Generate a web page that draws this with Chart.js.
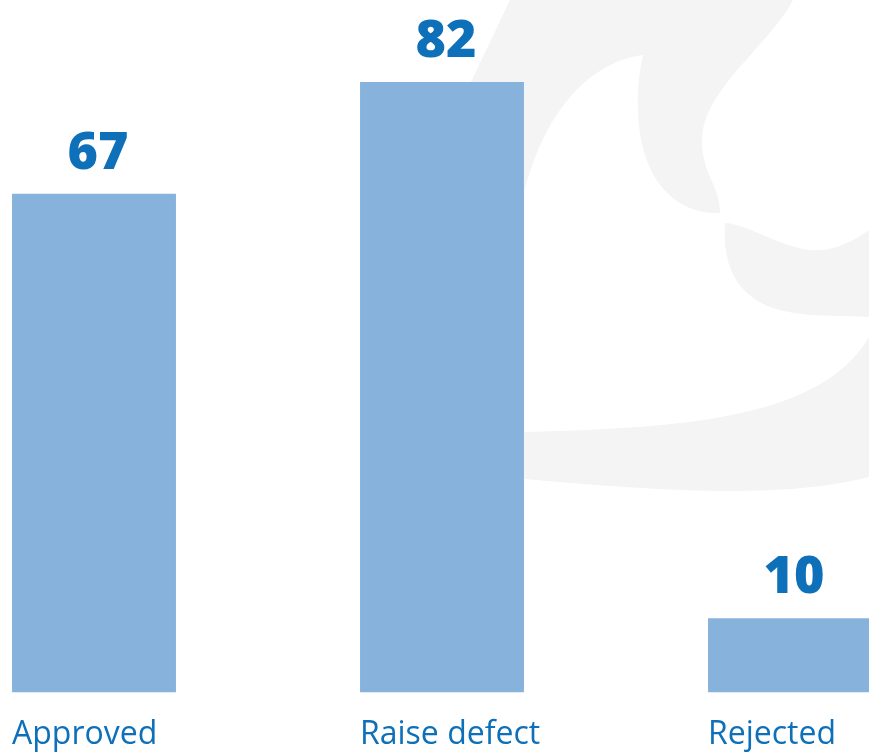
<!DOCTYPE html>
<html>
<head>
<meta charset="utf-8">
<script src="https://cdn.jsdelivr.net/npm/chart.js@4/dist/chart.umd.min.js"></script>
<style>
  html, body { margin: 0; padding: 0; background: #fff; overflow: hidden; }
  #stage { position: relative; width: 869px; height: 754px; overflow: hidden; }
  #swoosh { position: absolute; left: 0; top: 0; }
  /* canvas is wider and taller than the page; the edges are clipped */
  #wrap { position: absolute; left: -80px; top: 0; width: 1044px; height: 777px; }
</style>
</head>
<body>
<div id="stage">
  <svg id="swoosh" width="869" height="754" viewBox="0 0 869 754">
    <g fill="#f4f4f4">
      <path d="M 510 0 L 793 0 C 770 45, 702 90, 702 140 C 702 175, 720 185, 720 213
               C 680 215, 640 185, 638 110 C 637 85, 640 70, 643 55
               C 590 62, 545 110, 524 193 L 500 300 L 420 300 L 470 84 Z"/>
      <path d="M 725 223 C 750 225, 775 245, 810 250 C 835 252, 855 240, 869 230
               L 869 317 C 840 315, 800 318, 770 307 C 740 295, 722 270, 725 223 Z"/>
      <path d="M 500 433 L 524 432 C 680 428, 820 420, 869 337 L 869 477
               C 780 500, 650 490, 524 479 L 500 479 Z"/>
    </g>
  </svg>
  <div id="wrap"><canvas id="chart" width="1044" height="777"></canvas></div>
</div>
<script>
const categories = ['Approved', 'Raise defect', 'Rejected'];
const counts = [67, 82, 10];

const barColor = '#87b2dc';
const textColor = '#0d70b8';

// value printed above each bar
const valueLabels = {
  id: 'valueLabels',
  afterDatasetsDraw(chart) {
    const ctx = chart.ctx;
    const meta = chart.getDatasetMeta(0);
    ctx.save();
    ctx.font = '800 52px "Open Sans"';
    ctx.fillStyle = textColor;
    ctx.textAlign = 'center';
    ctx.textBaseline = 'alphabetic';
    meta.data.forEach((bar, i) => {
      ctx.fillText(String(counts[i]), bar.x + 4, bar.y - 25);
    });
    ctx.restore();
  }
};

new Chart(document.getElementById('chart').getContext('2d'), {
  type: 'bar',
  data: {
    labels: categories,
    datasets: [{
      data: counts,
      backgroundColor: barColor,
      borderWidth: 0,
      categoryPercentage: 1,
      barPercentage: 0.471
    }]
  },
  options: {
    responsive: false,
    animation: false,
    layout: { padding: 0 },
    plugins: {
      legend: { display: false },
      tooltip: { enabled: false }
    },
    scales: {
      x: {
        grid: { display: false, drawTicks: false },
        border: { display: false },
        ticks: {
          color: textColor,
          font: { family: '"Open Sans"', size: 32 },
          align: 'start',
          labelOffset: -82,
          padding: 23,
          autoSkip: false,
          maxRotation: 0,
          minRotation: 0
        }
      },
      y: {
        display: false,
        min: 0,
        max: 93
      }
    }
  },
  plugins: [valueLabels]
});
</script>
</body>
</html>
